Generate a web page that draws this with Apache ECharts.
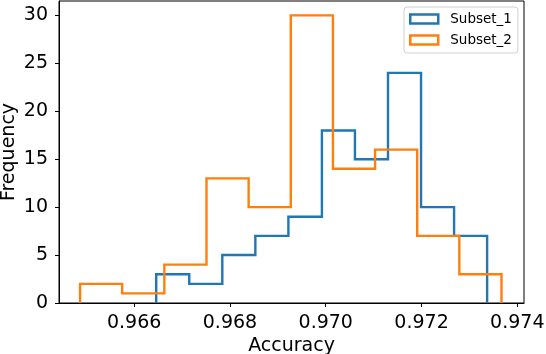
<!DOCTYPE html>
<html>
<head>
<meta charset="utf-8">
<script src="https://cdn.jsdelivr.net/npm/echarts@6/dist/echarts.min.js"></script>
<style>
  html, body { margin: 0; padding: 0; background: #fff; }
  #hist { width: 546px; height: 354px; }
</style>
</head>
<body>
<div id="hist"></div>
<script>
// bin edges and counts
var edges1 = [0.96646, 0.96715, 0.96784, 0.96853, 0.96922, 0.96992, 0.97061, 0.97130, 0.97199, 0.97268, 0.97337];
var counts1 = [3, 2, 5, 7, 9, 18, 15, 24, 10, 7];
var edges2 = [0.96487, 0.96575, 0.96663, 0.96751, 0.96839, 0.96927, 0.97015, 0.97103, 0.97191, 0.97279, 0.97367];
var counts2 = [2, 1, 4, 13, 10, 30, 14, 16, 7, 3];
var xTicks = [0.966, 0.968, 0.970, 0.972, 0.974];
var yTicks = [0, 5, 10, 15, 20, 25, 30];
var names = ['Subset_1', 'Subset_2'];
var colors = ['#1f77b4', '#ff7f0e'];

// outline of a step histogram
function stepPoints(edges, counts) {
	var pts = [[edges[0], 0]];
	for (var i = 0; i < counts.length; i++) {
		pts.push([edges[i], counts[i]]);
		pts.push([edges[i + 1], counts[i]]);
	}
	pts.push([edges[edges.length - 1], 0]);
	return pts;
}

var font = 'DejaVu Sans';
var myChart = echarts.init(document.getElementById('hist'));
var option = {
	animation: false,
	grid: {
		left: 59, right: 22, top: 1, bottom: 51,
		outerBoundsMode: 'none',
		containLabel: false,
		show: true, borderColor: '#000', borderWidth: 1
	},
	legend: {
		left: 404, top: 7,
		orient: 'vertical',
		padding: [4, 6, 5, 5],
		itemGap: 5,
		itemWidth: 28,
		itemHeight: 9,
		icon: 'rect',
		backgroundColor: '#fff',
		borderColor: '#d0d0d0',
		borderWidth: 1,
		borderRadius: 3,
		textStyle: { fontFamily: font, fontSize: 13.5, color: '#000', lineHeight: 16, padding: [0, 0, 0, 7] },
		data: names.map(function (n, i) {
			return { name: n, itemStyle: { color: 'rgba(0,0,0,0)', borderColor: colors[i], borderWidth: 2.5 } };
		})
	},
	xAxis: {
		type: 'value',
		min: 0.96443, max: 0.97414,
		name: 'Accuracy',
		nameLocation: 'middle',
		nameGap: 34,
		nameMoveOverlap: false,
		nameTextStyle: { fontFamily: font, fontSize: 19, color: '#000' },
		axisLine: { onZero: false, lineStyle: { color: '#000', width: 1 } },
		axisTick: { show: true, length: 4, customValues: xTicks, lineStyle: { color: '#000' } },
		axisLabel: {
			customValues: xTicks, margin: 11,
			fontFamily: font, fontSize: 19, color: '#000',
			formatter: function (v) { return v.toFixed(3); }
		},
		splitLine: { show: false }
	},
	yAxis: {
		type: 'value',
		min: 0, max: 31.5,
		name: 'Frequency',
		nameLocation: 'middle',
		nameGap: 40,
		nameMoveOverlap: false,
		nameTextStyle: { fontFamily: font, fontSize: 19, color: '#000' },
		axisLine: { show: true, lineStyle: { color: '#000', width: 1 } },
		axisTick: { show: true, length: 4, customValues: yTicks, lineStyle: { color: '#000' } },
		axisLabel: { customValues: yTicks, margin: 11, fontFamily: font, fontSize: 19, color: '#000' },
		splitLine: { show: false }
	},
	series: [
		{
			name: names[0], type: 'line',
			data: stepPoints(edges1, counts1),
			showSymbol: false,
			color: colors[0],
			lineStyle: { color: colors[0], width: 2.4, join: 'miter' }
		},
		{
			name: names[1], type: 'line',
			data: stepPoints(edges2, counts2),
			showSymbol: false,
			color: colors[1],
			lineStyle: { color: colors[1], width: 2.4, join: 'miter' }
		}
	]
};
if (option && typeof option === "object") {
	myChart.setOption(option, true);
}
</script>
</body>
</html>
